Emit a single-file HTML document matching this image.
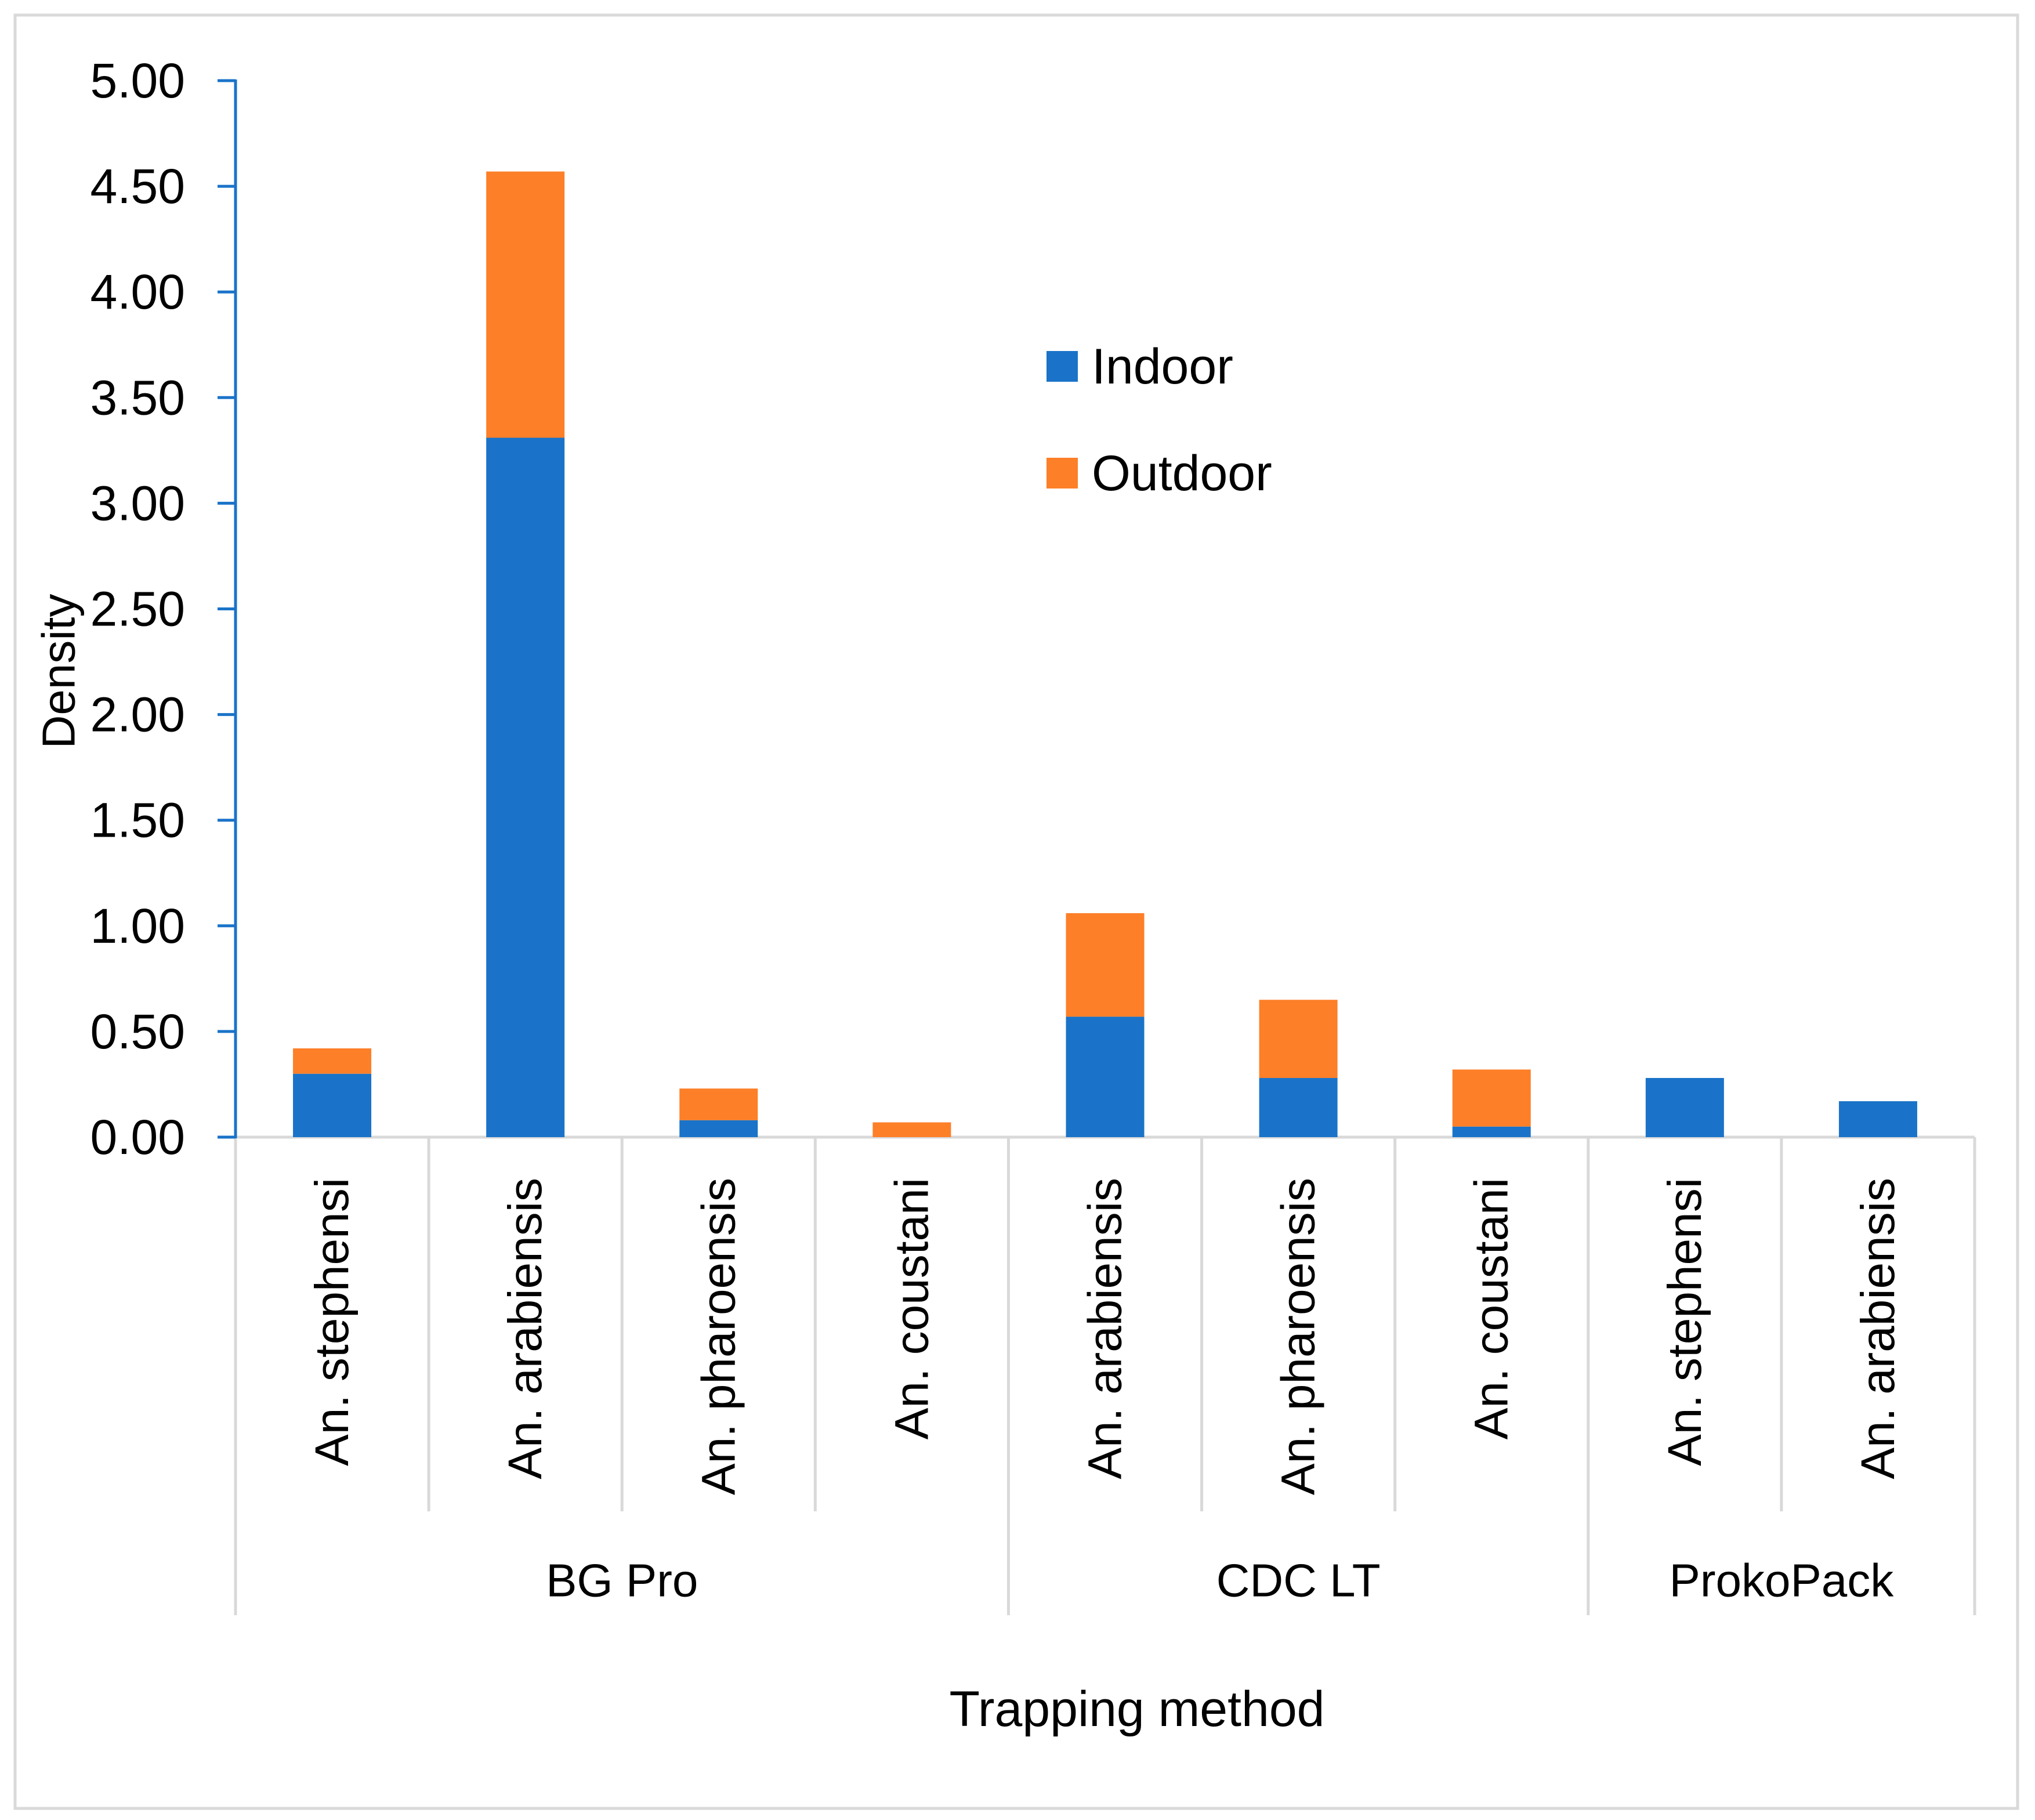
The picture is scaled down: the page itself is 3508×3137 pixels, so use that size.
<!DOCTYPE html>
<html><head><meta charset="utf-8"><style>
html,body{margin:0;padding:0;background:#fff}
svg{display:block}
text{font-family:"Liberation Sans",sans-serif;fill:#000}
</style></head><body>
<svg id="chart" width="3508" height="3137" viewBox="0 0 3508 3137">
<rect x="26" y="26" width="3452" height="3091" fill="#fff" stroke="#d9d9d9" stroke-width="5"/>
<g id="grid"></g>
<g id="bars"></g>
<g id="axes"></g>
<text x="101" y="1157" font-size="80" text-anchor="middle" dominant-baseline="central" transform="rotate(-90 101 1157)">Density</text>
<text x="1960" y="2946" font-size="86" text-anchor="middle" dominant-baseline="central">Trapping method</text>
<g>
<rect x="1804" y="605" width="54" height="53" fill="#1a73c8"/>
<text x="1882" y="632" font-size="86" dominant-baseline="central">Indoor</text>
<rect x="1804" y="789" width="54" height="53" fill="#fd7f28"/>
<text x="1882" y="816" font-size="86" dominant-baseline="central">Outdoor</text>
</g>
</svg>
<script>
const categories=["An. stephensi","An. arabiensis","An. pharoensis","An. coustani","An. arabiensis","An. pharoensis","An. coustani","An. stephensi","An. arabiensis"];
const indoor=[0.30,3.31,0.08,0.00,0.57,0.28,0.05,0.28,0.17];
const outdoor=[0.12,1.26,0.15,0.07,0.49,0.37,0.27,0.00,0.00];
const groups=["BG Pro","CDC LT","ProkoPack"];
const groupSizes=[4,3,2];
const yTicks=["0.00","0.50","1.00","1.50","2.00","2.50","3.00","3.50","4.00","4.50","5.00"];
const NS="http://www.w3.org/2000/svg";
const X0=406,X1=3404,Y0=1960,Y1=139,YMAX=5;
const cw=(X1-X0)/categories.length;
const y=v=>Y0-(v/YMAX)*(Y0-Y1);
const x=i=>X0+cw*i;
function mk(tag,attrs,parent){const e=document.createElementNS(NS,tag);for(const k in attrs)e.setAttribute(k,attrs[k]);document.getElementById(parent).appendChild(e);return e;}
let l=mk('line',{x1:X0,y1:Y0,x2:X1,y2:Y0,stroke:'#d9d9d9','stroke-width':5},'grid');


let acc=0;const groupEdges=[0];
groupSizes.forEach(s=>{acc+=s;groupEdges.push(acc);});
for(let i=0;i<=categories.length;i++){
  const isGroup=groupEdges.includes(i);
  const d=mk('line',{x1:x(i),y1:Y0,x2:x(i),y2:isGroup?2784:2605,stroke:'#d9d9d9','stroke-width':5},'grid');
  
  
}
categories.forEach((c,i)=>{
  const cx=x(i)+cw/2,bw=135;
  const b1=mk('rect',{x:cx-bw/2,y:y(indoor[i]),width:bw,height:Y0-y(indoor[i]),fill:'#1a73c8'},'bars');
  
  
  const top=indoor[i]+outdoor[i];
  const b2=mk('rect',{x:cx-bw/2,y:y(top),width:bw,height:y(indoor[i])-y(top),fill:'#fd7f28'},'bars');
  
  
  const t=mk('text',{x:cx,y:2030,'font-size':82,'text-anchor':'end','dominant-baseline':'central',transform:`rotate(-90 ${cx} 2030)`},'axes');
  t.textContent=c;
  
  
});
groups.forEach((g,k)=>{
  const cx=(x(groupEdges[k])+x(groupEdges[k+1]))/2;
  const t=mk('text',{x:cx,y:2724,'font-size':80,'text-anchor':'middle','dominant-baseline':'central'},'axes');
  t.textContent=g;
  
  
});
const ax=mk('line',{x1:X0,y1:Y1-2,x2:X0,y2:Y0+2,stroke:'#1a73c8','stroke-width':5},'axes');


yTicks.forEach(tv=>{
  const v=parseFloat(tv),yy=y(v);
  const tk=mk('line',{x1:375,y1:yy,x2:X0,y2:yy,stroke:'#1a73c8','stroke-width':5},'axes');
  
  
  const t=mk('text',{x:319,y:yy,'font-size':84,'text-anchor':'end','dominant-baseline':'central'},'axes');
  t.textContent=tv;
  
  
});
</script>
</body></html>
